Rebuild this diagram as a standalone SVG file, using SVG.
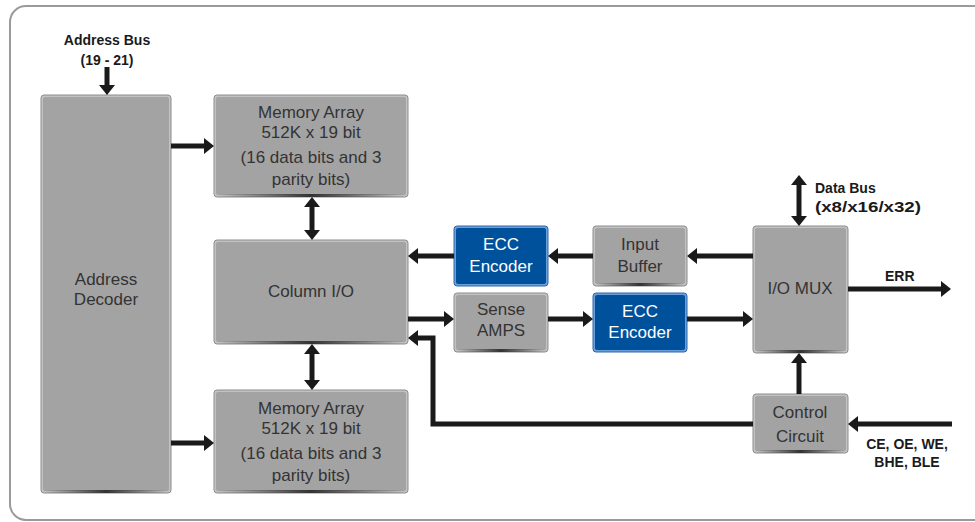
<svg xmlns="http://www.w3.org/2000/svg" width="975" height="522" viewBox="0 0 975 522">
<style>
.box{fill:#a3a3a3;stroke:#c2c2c2;stroke-width:2}
.boxo{fill:none;stroke:#8c8c8c;stroke-width:1}
.bl{fill:#00519b;stroke:#6a9fdc;stroke-width:2}
.blo{fill:none;stroke:#2f65a8;stroke-width:1}
.t{font-family:"Liberation Sans",Arial,sans-serif;font-size:17px;fill:#333;text-anchor:middle}
.tw{font-family:"Liberation Sans",Arial,sans-serif;font-size:17px;fill:#fff;text-anchor:middle}
.lb{font-family:"Liberation Sans",Arial,sans-serif;font-size:14px;font-weight:bold;fill:#1a1a1a}
.c{stroke:#1a1a1a;stroke-width:5;fill:none}
.a{marker-end:url(#ah)}
.d{marker-start:url(#ah);marker-end:url(#ah)}
</style>
<defs>
<marker id="ah" markerUnits="userSpaceOnUse" viewBox="0 0 10 16" markerWidth="10" markerHeight="16" refX="0" refY="8" orient="auto-start-reverse">
<path d="M0,0 L10,8 L0,16 z" fill="#1a1a1a"/>
</marker>
<linearGradient id="sh" x1="0" x2="1" y1="0" y2="0">
<stop offset="0" stop-color="#333" stop-opacity="0"/>
<stop offset="0.5" stop-color="#333" stop-opacity="1"/>
<stop offset="1" stop-color="#333" stop-opacity="0"/>
</linearGradient>
</defs>
<rect x="10" y="6" width="990" height="514" rx="16" fill="#fff" stroke="#9a9a9a" stroke-width="2"/>

<g id="address-bus-label">
<text class="lb" x="107" y="45" text-anchor="middle" font-size="15">Address Bus</text>
<text class="lb" x="107" y="65" text-anchor="middle" font-size="15">(19 - 21)</text>
</g>

<g id="address-decoder">
<rect class="box" x="42" y="96" width="128" height="396" rx="3"/>
<rect class="boxo" x="41" y="95" width="130" height="398" rx="3"/>
<rect x="44" y="490" width="124" height="3" fill="url(#sh)"/>
<text class="t" x="106" y="285">Address</text>
<text class="t" x="106" y="305">Decoder</text>
</g>

<g id="memory-array-top">
<rect class="box" x="215" y="96" width="192" height="100" rx="3"/>
<rect class="boxo" x="214" y="95" width="194" height="102" rx="3"/>
<rect x="217" y="194" width="188" height="3" fill="url(#sh)"/>
<text class="t" x="311" y="118">Memory Array</text>
<text class="t" x="311" y="138">512K x 19 bit</text>
<text class="t" x="311" y="163">(16 data bits and 3</text>
<text class="t" x="311" y="185">parity bits)</text>
</g>

<g id="column-io">
<rect class="box" x="215" y="241" width="192" height="102" rx="3"/>
<rect class="boxo" x="214" y="240" width="194" height="104" rx="3"/>
<rect x="217" y="341" width="188" height="3" fill="url(#sh)"/>
<text class="t" x="311" y="297">Column I/O</text>
</g>

<g id="memory-array-bottom">
<rect class="box" x="215" y="391" width="192" height="101" rx="3"/>
<rect class="boxo" x="214" y="390" width="194" height="103" rx="3"/>
<rect x="217" y="490" width="188" height="3" fill="url(#sh)"/>
<text class="t" x="311" y="414">Memory Array</text>
<text class="t" x="311" y="434">512K x 19 bit</text>
<text class="t" x="311" y="459">(16 data bits and 3</text>
<text class="t" x="311" y="481">parity bits)</text>
</g>

<g id="ecc-encoder-top">
<rect class="bl" x="455" y="227" width="92" height="58" rx="3"/>
<rect class="blo" x="454" y="226" width="94" height="60" rx="3"/>
<text class="tw" x="501" y="250">ECC</text>
<text class="tw" x="501" y="272">Encoder</text>
</g>

<g id="input-buffer">
<rect class="box" x="594" y="227" width="92" height="58" rx="3"/>
<rect class="boxo" x="593" y="226" width="94" height="60" rx="3"/>
<rect x="596" y="283" width="88" height="3" fill="url(#sh)"/>
<text class="t" x="640" y="250">Input</text>
<text class="t" x="640" y="272">Buffer</text>
</g>

<g id="sense-amps">
<rect class="box" x="455" y="294" width="92" height="57" rx="3"/>
<rect class="boxo" x="454" y="293" width="94" height="59" rx="3"/>
<rect x="457" y="349" width="88" height="3" fill="url(#sh)"/>
<text class="t" x="501" y="315">Sense</text>
<text class="t" x="501" y="336">AMPS</text>
</g>

<g id="ecc-encoder-bottom">
<rect class="bl" x="594" y="294" width="92" height="57" rx="3"/>
<rect class="blo" x="593" y="293" width="94" height="59" rx="3"/>
<text class="tw" x="640" y="317">ECC</text>
<text class="tw" x="640" y="338">Encoder</text>
</g>

<g id="io-mux">
<rect class="box" x="754" y="227" width="93" height="125" rx="3"/>
<rect class="boxo" x="753" y="226" width="95" height="127" rx="3"/>
<rect x="756" y="350" width="89" height="3" fill="url(#sh)"/>
<text class="t" x="800" y="294">I/O MUX</text>
</g>

<g id="control-circuit">
<rect class="box" x="754" y="395" width="93" height="57" rx="3"/>
<rect class="boxo" x="753" y="394" width="95" height="59" rx="3"/>
<rect x="756" y="450" width="89" height="3" fill="url(#sh)"/>
<text class="t" x="800" y="418">Control</text>
<text class="t" x="800" y="442">Circuit</text>
</g>

<g id="data-bus-label">
<text class="lb" x="815" y="193">Data Bus</text>
<text class="lb" x="815" y="212" textLength="106" lengthAdjust="spacingAndGlyphs">(x8/x16/x32)</text>
</g>
<g id="err-label">
<text class="lb" x="885" y="281" font-size="13">ERR</text>
</g>
<g id="control-signals-label">
<text class="lb" x="907" y="449" text-anchor="middle" font-size="15">CE, OE, WE,</text>
<text class="lb" x="907" y="467" text-anchor="middle">BHE, BLE</text>
</g>

<g id="connectors">
<line class="c a" x1="107" y1="67" x2="107" y2="85"/>
<line class="c a" x1="171" y1="146" x2="204" y2="146"/>
<line class="c a" x1="171" y1="443" x2="204" y2="443"/>
<line class="c d" x1="312" y1="207" x2="312" y2="230"/>
<line class="c d" x1="312" y1="354" x2="312" y2="380"/>
<line class="c a" x1="753" y1="256" x2="697" y2="256"/>
<line class="c a" x1="593" y1="256" x2="558" y2="256"/>
<line class="c a" x1="454" y1="256" x2="418" y2="256"/>
<line class="c a" x1="408" y1="319" x2="444" y2="319"/>
<line class="c a" x1="548" y1="319" x2="583" y2="319"/>
<line class="c a" x1="687" y1="319" x2="743" y2="319"/>
<line class="c d" x1="799" y1="185" x2="799" y2="216"/>
<line class="c a" x1="848" y1="289" x2="941" y2="289"/>
<line class="c a" x1="799" y1="394" x2="799" y2="363"/>
<line class="c a" x1="952" y1="424" x2="858" y2="424"/>
<polyline class="c a" points="753,424 433,424 433,338 418,338"/>
</g>
</svg>
